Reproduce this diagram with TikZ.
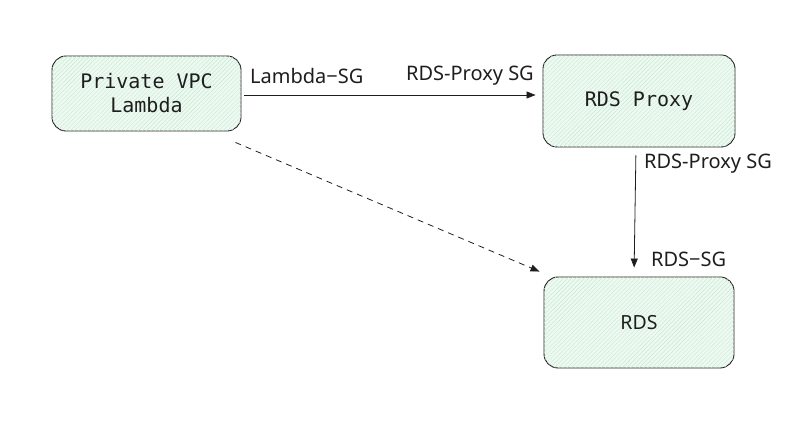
\documentclass[tikz,border=0pt]{standalone}
\usepackage{fontspec}
\setmainfont{Noto Sans}
\newfontfamily\monofont{DejaVu Sans Mono}
\usetikzlibrary{arrows.meta,patterns,patterns.meta}
\definecolor{boxfill}{HTML}{EEF9F1}
\definecolor{hatch}{HTML}{C4EACF}
\definecolor{ink}{HTML}{1E1E1E}
\tikzset{
  box/.style={draw=ink, line width=0.9pt, rounded corners=14pt, fill=boxfill,
    postaction={pattern={Lines[angle=45,distance=3pt,line width=0.4pt]}, pattern color=hatch},
    inner sep=0pt, align=center, text=ink},
  mono/.style={font=\monofont\fontsize{20}{24}\selectfont},
  sans/.style={font=\fontsize{19.5}{23}\selectfont},
  lbl/.style={font=\fontsize{20}{24}\selectfont, text=ink, inner sep=0pt},
  arr/.style={draw=ink, line width=0.8pt, -{Triangle[length=9pt,width=7pt]}},
}
\begin{document}
\begin{tikzpicture}[x=1pt,y=1pt]
\useasboundingbox (0,0) rectangle (808,430);
\node[box, mono, minimum width=189pt, minimum height=75pt] (L) at (146.5,336.5) {Private VPC\\Lambda};
\node[box, mono, minimum width=192pt, minimum height=92pt] (P) at (639,329) {RDS Proxy};
\node[box, sans, minimum width=190pt, minimum height=91pt] (R) at (639,107.5) {RDS};
\draw[arr, shorten <=3pt, shorten >=7pt] ([yshift=-1.5pt]L.east) -- ([yshift=-1.5pt]L.east -| P.west);
\draw[arr, shorten <=8pt, shorten >=9pt] ([xshift=-3pt]P.south) -- ([xshift=-5pt]R.north);
\draw[arr, dashed, dash pattern=on 6pt off 5pt] ([shift={(-6pt,-11pt)}]L.south east) -- ([shift={(-4pt,5pt)}]R.north west);
\node[lbl, anchor=west] (l1) at (250,354) {Lambda−SG};
\node[lbl, anchor=east] (l2) at (534,354) {RDS-Proxy SG};
\node[lbl, anchor=west] (l3) at (644,266) {RDS-Proxy SG};
\node[lbl, anchor=west] (l4) at (651,171) {RDS−SG};
\end{tikzpicture}
\end{document}
